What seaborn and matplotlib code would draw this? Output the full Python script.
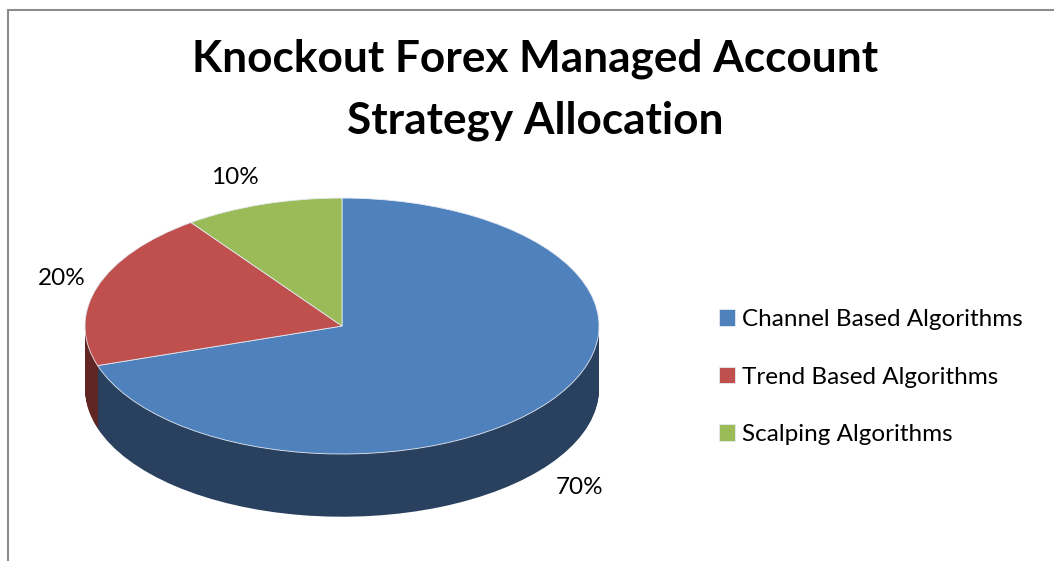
import matplotlib
matplotlib.use('Agg')
import matplotlib.pyplot as plt
import seaborn as sns
from matplotlib.patches import Rectangle

# data
categories = ['Channel Based Algorithms', 'Trend Based Algorithms', 'Scalping Algorithms']
shares = [70, 20, 10]
pct_labels = ['70%', '20%', '10%']

# styling
top_colors = ['#4F81BD', '#C0504D', '#9BBB59']
side_colors = ['#29415F', '#612624', '#4D5D2C']
label_xy = [(0.926, -1.258), (-1.09, 0.375), (-0.416, 1.164)]

sns.set_theme(style='white')
plt.rcParams['font.family'] = ['Lato', 'DejaVu Sans']
plt.rcParams['text.color'] = 'black'

fig = plt.figure(figsize=(10.54, 5.61), dpi=100)
ax = fig.add_axes([0.0563, 0.0561, 0.5364, 0.6137])

# side wall: stack of darker pies pushed downwards
depth = 0.49
n_layers = 60
for k in range(n_layers, 0, -1):
    ax.pie(shares, colors=side_colors, startangle=90, counterclock=False,
           center=(0, -depth * k / n_layers),
           wedgeprops=dict(linewidth=0))

wedges, _ = ax.pie(shares, colors=top_colors, startangle=90, counterclock=False,
                   wedgeprops=dict(linewidth=0.6, edgecolor='#e4eaf2'))

for txt, (x, y) in zip(pct_labels, label_xy):
    ax.text(x, y, txt, ha='center', va='center', fontsize=17.5, color='black')

ax.set_aspect('auto')
ax.set_xlim(-1.1, 1.1)
ax.set_ylim(-1.59, 1.1)
ax.axis('off')

fig.text(535 / 1054, 1 - 59 / 561, 'Knockout Forex Managed Account',
         ha='center', va='center', fontsize=31.8, fontweight='bold', color='black')
fig.text(535 / 1054, 1 - 121 / 561, 'Strategy Allocation',
         ha='center', va='center', fontsize=31.8, fontweight='bold', color='black')

fig.legend(wedges, categories, loc='center left',
           bbox_to_anchor=(719 / 1054, 1 - 377 / 561),
           frameon=False, fontsize=17.5, handlelength=0.66, handleheight=0.66,
           handletextpad=0.3, labelspacing=1.5, borderpad=0, borderaxespad=0,
           labelcolor='black')

fig.patches.append(Rectangle((7.5 / 1054, -0.05), 1.1, 1 - 9.5 / 561 + 0.05,
                             transform=fig.transFigure, fill=False,
                             edgecolor='#8c8c8c', linewidth=1.5))

fig.savefig('out.png', dpi=100, facecolor='white')
